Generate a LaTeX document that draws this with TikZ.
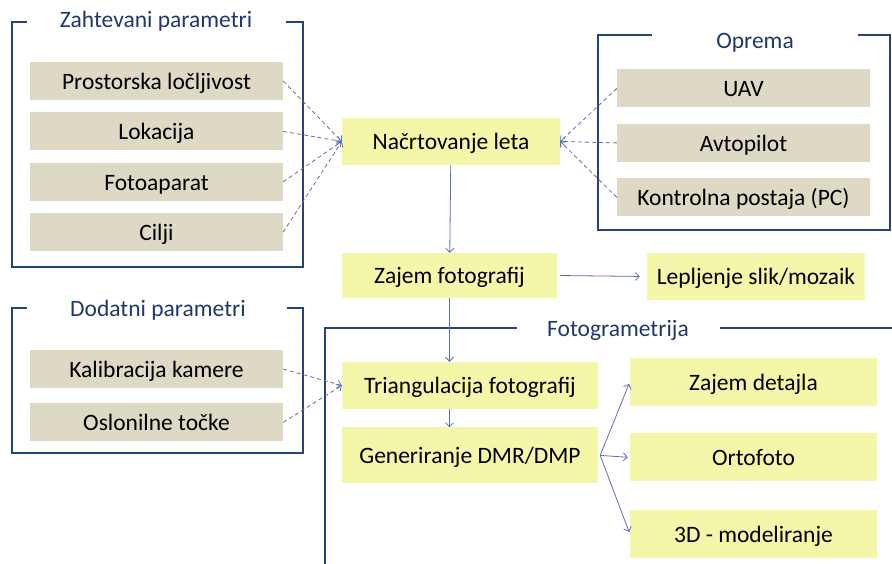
\documentclass[tikz,border=0pt]{standalone}
\usepackage{fontspec}
\setmainfont{Carlito}
\usetikzlibrary{arrows.meta,positioning}
\definecolor{boxgray}{RGB}{221,217,196}
\definecolor{boxyellow}{RGB}{244,246,170}
\definecolor{frameblue}{RGB}{38,68,120}
\definecolor{titleblue}{RGB}{31,56,110}
\definecolor{arrblue}{RGB}{92,112,180}

\begin{document}
\begin{tikzpicture}[x=1pt, y=-1pt,
      font=\fontsize{23.5}{28}\selectfont,
      parbox/.style={fill=boxgray, minimum width=253pt, minimum height=38pt, inner sep=0pt, text height=17.5pt, text depth=1pt},
      stepbox/.style={fill=boxyellow, minimum height=47pt, inner sep=0pt, text height=17.5pt, text depth=1pt},
      frame/.style={draw=frameblue, line width=1.6pt},
      ttl/.style={text=titleblue, inner sep=0pt, text height=17.5pt, text depth=1pt},
      arr/.style={-{Straight Barb[length=4pt,width=8pt]}, draw=arrblue, line width=0.8pt},
      darr/.style={arr, dash pattern=on 4pt off 3pt}
    ]
    \fill[white] (0,0) rectangle (892,564);
    \useasboundingbox (0,0) rectangle (892,564);

    % frames with titles
    \draw[frame] (27,22) -| (12,267) -| (303,22) -- (286,22);
    \node[ttl] (zt) at (156,19) {Zahtevani parametri};
    \draw[frame] (652,35) -| (598,230) -| (890,35) -- (858,35);
    \node[ttl] (ot) at (755,40) {Oprema};
    \draw[frame] (27,308) -| (12,453) -| (303,308) -- (287,308);
    \node[ttl] (dt) at (158,308) {Dodatni parametri};
    \draw[frame] (517,328) -| (325,564);
    \draw[frame] (720,328) -- (892,328);
    \node[ttl] (ft) at (618,328) {Fotogrametrija};

    % input parameters
    \node[parbox] (zp1) at (156.5,81) {Prostorska ločljivost};
    \node[parbox, below=12pt of zp1] (zp2) {Lokacija};
    \node[parbox, below=12pt of zp2] (zp3) {Fotoaparat};
    \node[parbox, below=12pt of zp3] (zp4) {Cilji};

    \node[parbox] (op1) at (743.5,88.5) {UAV};
    \node[parbox, below=16pt of op1] (op2) {Avtopilot};
    \node[parbox, below=16pt of op2] (op3) {Kontrolna postaja (PC)};

    \node[parbox] (dp1) at (156.5,369) {Kalibracija kamere};
    \node[parbox, below=15pt of dp1] (dp2) {Oslonilne točke};

    % workflow
    \node[stepbox, minimum width=218pt] (plan) at (451,141.5) {Načrtovanje leta};
    \node[stepbox, minimum width=215pt, minimum height=45pt] (zajem) at (449.5,275.5) {Zajem fotografij};
    \node[stepbox, minimum width=218pt] (lepl) at (756,276.5) {Lepljenje slik/mozaik};
    \node[stepbox, minimum width=256pt] (tri) at (470,385.5) {Triangulacija fotografij};
    \node[stepbox, minimum width=256pt, minimum height=56pt, below=18pt of tri] (gen) {Generiranje DMR/DMP};

    \node[stepbox, minimum width=247pt, minimum height=48pt] (det) at (753.5,382) {Zajem detajla};
    \node[stepbox, minimum width=247pt, minimum height=48pt, below=27pt of det] (orto) {Ortofoto};
    \node[stepbox, minimum width=247pt, minimum height=48pt, below=28pt of orto] (model) {3D - modeliranje};

    % connectors
    \foreach \n in {zp1,zp2,zp3,zp4}
      \draw[darr] (\n.east) -- (plan.west);
    \foreach \n in {op1,op2,op3}
      \draw[darr] (\n.west) -- (plan.east);
    \foreach \n in {dp1,dp2}
      \draw[darr] (\n.east) -- (tri.west);

    \draw[arr] (plan) -- (zajem);
    \draw[arr, shorten <=3pt, shorten >=7pt] (zajem.east) -- (lepl.west);
    \draw[arr] (zajem.south) -- (zajem.south |- tri.north);
    \draw[arr] (zajem.south |- tri.south) -- (zajem.south |- gen.north);
    \coordinate (fan) at ([xshift=2pt]gen.east);
    \foreach \n in {det,orto,model}
      \draw[arr, shorten >=2pt] (fan) -- (\n.west);
  \end{tikzpicture}
\end{document}
